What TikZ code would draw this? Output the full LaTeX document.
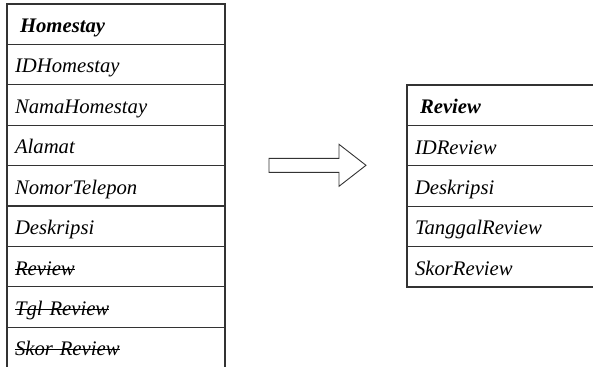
\documentclass[tikz,border=0pt]{standalone}
\usepackage{fontspec}
\setmainfont{Liberation Serif}
\newcommand{\strk}[1]{\sbox0{#1}\rlap{\usebox0}\rule[0.27em]{\wd0}{0.8pt}}
\tikzset{
  attr/.style={draw=black!80, line width=1.1pt, anchor=north west, outer sep=0,
    minimum width=218, minimum height=40.4, inner xsep=8, inner ysep=8.6,
    text width=202, text height=20, text depth=3.2, align=left,
    font=\fontsize{20.7}{22}\selectfont\itshape},
  head/.style={inner xsep=13, text width=192,
    font=\fontsize{20.7}{22}\selectfont\bfseries\itshape},
  wide/.style={minimum width=200, text width=184},
  widehead/.style={minimum width=200, text width=174}
}

\begin{document}
\begin{tikzpicture}[x=1pt,y=-1pt]
  \useasboundingbox (0,0) rectangle (593,366);
  % Homestay table
  \node[attr,head] (h0) at (7,4) {Homestay};
  \foreach \t [count=\i] in {IDHomestay,NamaHomestay,Alamat,NomorTelepon,Deskripsi,
      \strk{Review},\strk{Tgl Review},\strk{Skor Review}} {
    \node[attr] (h\i) at (7,4+40.4*\i) {\t};
  }
  % Review table
  \node[attr,head,widehead] (r0) at (407,85) {Review};
  \foreach \t [count=\i] in {IDReview,Deskripsi,TanggalReview,SkorReview} {
    \node[attr,wide] (r\i) at (407,85+40.4*\i) {\t};
  }
  % arrow
  \coordinate (arr) at (269,165.3);
  \draw[draw=black!80, line width=0.9pt, line join=miter] (arr) ++(0,-7) -- ++(70,0) -- ++(0,-14)
    -- ++(27,21) -- ++(-27,21) -- ++(0,-14) -- ++(-70,0) -- cycle;
\end{tikzpicture}
\end{document}
